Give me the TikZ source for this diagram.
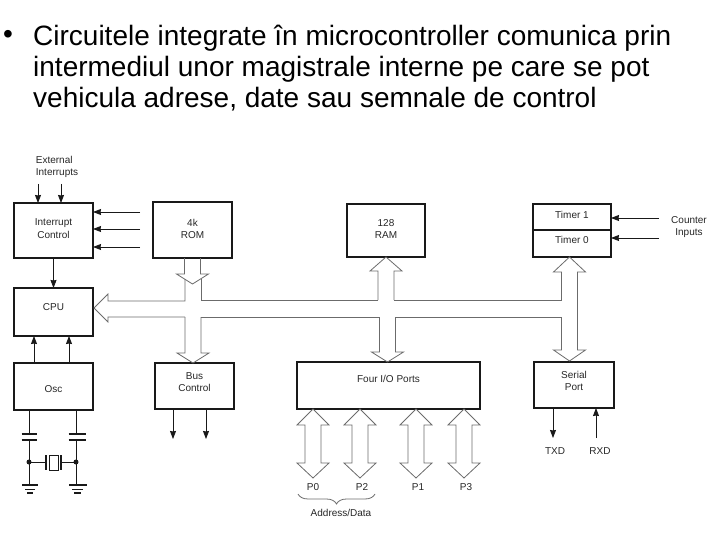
\documentclass[tikz,border=0pt]{standalone}
\usepackage{fontspec}
\setmainfont{Liberation Sans}
\usetikzlibrary{arrows.meta, positioning, calc, decorations.pathreplacing}
\definecolor{inkgray}{gray}{0.15}
\definecolor{busgray}{gray}{0.42}
\tikzset{
  blockbox/.style={
    rectangle, draw=black!90, line width=1.5pt, inner sep=0pt, outer sep=0pt,
    align=center, font=\fontsize{10}{12.5}\selectfont, text=inkgray
  },
  sigtext/.style={
    inner sep=0pt, align=center,
    font=\fontsize{10}{12}\selectfont, text=inkgray
  },
  sigarrow/.style={-{Stealth[length=8pt,width=6pt,inset=0.5pt]}, line width=0.8pt, color=black!90},
  wire/.style={line width=0.8pt, color=black!90},
  plate/.style={line width=1.4pt, color=black!90},
  busline/.style={line width=0.8pt, color=busgray},
  % outline arrows, straight down or up, tip at the height of the target
  busdown/.style={busline, to path={
    let \p1=(\tikztostart), \p2=(\tikztotarget) in
    (\x1-8pt,\y1) -- (\x1-8pt,\y2+10pt) -- (\x1-16pt,\y2+10pt) -- (\x1,\y2)
    -- (\x1+16pt,\y2+10pt) -- (\x1+8pt,\y2+10pt) -- (\x1+8pt,\y1)}},
  busup/.style={busline, to path={
    let \p1=(\tikztostart), \p2=(\tikztotarget) in
    (\x1-8pt,\y1) -- (\x1-8pt,\y2-14pt) -- (\x1-16pt,\y2-14pt) -- (\x1,\y2)
    -- (\x1+16pt,\y2-14pt) -- (\x1+8pt,\y2-14pt) -- (\x1+8pt,\y1)}},
  portarrow/.style={busline, to path={
    let \p1=(\tikztostart), \p2=(\tikztotarget) in
    (\x1,\y1) -- (\x1-16pt,\y1-16pt) -- (\x1-8pt,\y1-16pt) -- (\x1-8pt,\y2+15pt)
    -- (\x1-16pt,\y2+15pt) -- (\x1,\y2) -- (\x1+16pt,\y2+15pt) -- (\x1+8pt,\y2+15pt)
    -- (\x1+8pt,\y1-16pt) -- (\x1+16pt,\y1-16pt) -- cycle}},
}

\begin{document}
\begin{tikzpicture}[x=1pt, y=-1pt]
    \useasboundingbox (0,0) rectangle (720,540);

    \node[anchor=north west, inner sep=0pt, font=\fontsize{28}{31}\selectfont]
         (bullet) at (3,30){•};
    \node[anchor=north west, inner sep=0pt, align=left, font=\fontsize{28}{31}\selectfont]
         (title) at (33,24.5){Circuitele integrate în microcontroller comunica prin\\
         intermediul unor magistrale interne pe care se pot\\
         vehicula adrese, date sau semnale de control};

    % blocks
    \node[blockbox, minimum width=79pt, minimum height=55pt, text depth=4pt]
         (intctl) at (53.5,230.5){Interrupt\\Control};
    \node[blockbox, minimum width=79pt, minimum height=56pt, text depth=2pt]
         (rom) at (192.5,230){4k\\ROM};
    \node[blockbox, minimum width=78pt, minimum height=53pt, text depth=3pt]
         (ram) at (386,230.5){128\\RAM};
    \node[blockbox, minimum width=78pt, minimum height=26pt, text depth=4pt]
         (timerb) at (572,217){Timer 1};
    \node[blockbox, minimum width=78pt, minimum height=27pt, text depth=7pt]
         (timera) at (572,243.5){Timer 0};
    \node[blockbox, minimum width=79pt, minimum height=48pt, text depth=10pt]
         (cpu) at (53.5,312){CPU};
    \node[blockbox, minimum width=79pt, minimum height=47pt, text height=12pt]
         (osc) at (53.5,386.5){Osc};
    \node[blockbox, minimum width=79pt, minimum height=46pt, text depth=8pt]
         (busctl) at (194.5,386){Bus\\Control};
    \node[blockbox, minimum width=183pt, minimum height=47pt, text depth=13pt]
         (ports) at (388.5,385.5){Four I/O Ports};
    \node[blockbox, minimum width=80pt, minimum height=46pt, text depth=8pt]
         (serial) at (574,385){Serial\\Port};

    % labels
    \node[sigtext, align=left] (extint) at (57,166.5){External\\Interrupts};
    \node[sigtext] (cntin) at (689,227.5){Counter\\Inputs};
    \node[sigtext] (txd) at (555,451){TXD};
    \node[sigtext] (rxd) at (600,451){RXD};
    \node[sigtext] (pzero) at (313,487){P0};
    \node[sigtext] (ptwo) at (362,487){P2};
    \node[sigtext] (pone) at (418,487){P1};
    \node[sigtext] (pthree) at (466,487){P3};
    \node[sigtext] (addr) at (341,513){Address/Data};

    % free ends of the thin arrows
    \coordinate (exta) at (38,184);
    \coordinate (extb) at (61,184);
    \coordinate (irqa) at (140,212);
    \coordinate (irqb) at (140,229);
    \coordinate (irqc) at (140,247);
    \coordinate (clka) at (34,363);
    \coordinate (clkb) at (69,363);
    \coordinate (ctla) at (173,439);
    \coordinate (ctlb) at (206,439);
    \coordinate (txdend) at (553,438);
    \coordinate (rxdend) at (596,438);
    \coordinate (cnta) at (659,218);
    \coordinate (cntb) at (659,238);

    \draw[sigarrow] (exta) -- (intctl.north -| exta);
    \draw[sigarrow] (extb) -- (intctl.north -| extb);
    \draw[sigarrow] (irqa) -- (intctl.east |- irqa);
    \draw[sigarrow] (irqb) -- (intctl.east |- irqb);
    \draw[sigarrow] (irqc) -- (intctl.east |- irqc);
    \draw[sigarrow] (intctl.south) -- (cpu.north);
    \draw[sigarrow] (clka) -- (cpu.south -| clka);
    \draw[sigarrow] (clkb) -- (cpu.south -| clkb);
    \draw[sigarrow] (busctl.south -| ctla) -- (ctla);
    \draw[sigarrow] (busctl.south -| ctlb) -- (ctlb);
    \draw[sigarrow] (serial.south -| txdend) -- (txdend);
    \draw[sigarrow] (rxdend) -- (serial.south -| rxdend);
    \draw[sigarrow] (cnta) -- (timerb.east |- cnta);
    \draw[sigarrow] (cntb) -- (timera.east |- cntb);

    % bus
    \coordinate (romtip) at (193,284);
    \coordinate (ramfoot) at (386,300);
    \coordinate (ctlfoot) at (193,317);
    \coordinate (portfoot) at (387.5,317);
    \coordinate (serialtip) at (569.5,361);
    \coordinate (cputip) at (94,308);

    \draw[busdown] (rom.south) to (romtip);
    \draw[busup] (ramfoot) to (ram.south);
    \draw[busdown] (ctlfoot) to (busctl.north);
    \draw[busdown] (portfoot) to (ports.north);
    \draw[busline] (561.5,300) -- (561.5,272) -- (553.5,272) -- (timera.south -| serialtip)
          -- (585.5,272) -- (577.5,272) -- (577.5,350) -- (585.5,350) -- (serialtip)
          -- (553.5,350) -- (561.5,350) -- (561.5,317);
    \draw[busline] (185,279) -- (185,301) -- (108,301) -- (108,294) -- (cputip)
          -- (108,322) -- (108,317) -- (185,317);
    \draw[busline] (201,279) -- (201,300) -- (378,300);
    \draw[busline] (394,300) -- (561.5,300);
    \draw[busline] (201,317) -- (379.5,317);
    \draw[busline] (395.5,317) -- (561.5,317);

    % port arrows
    \coordinate (pzerotip) at (313,478);
    \coordinate (ptwotip) at (360,478);
    \coordinate (ponetip) at (416,478);
    \coordinate (pthreetip) at (464,478);
    \draw[portarrow] (ports.south -| pzerotip) to (pzerotip);
    \draw[portarrow] (ports.south -| ptwotip) to (ptwotip);
    \draw[portarrow] (ports.south -| ponetip) to (ponetip);
    \draw[portarrow] (ports.south -| pthreetip) to (pthreetip);

    \coordinate (bracel) at (298,494);
    \coordinate (bracer) at (375,494);
    \draw[busline, decorate, decoration={brace, mirror, amplitude=10pt}] (bracel) -- (bracer);

    % crystal circuit
    \coordinate (xtala) at (29,462);
    \coordinate (xtalb) at (76,462);
    \coordinate (capa) at (29,434);
    \coordinate (capb) at (76,434);
    \coordinate (gnda) at (29,485);
    \coordinate (gndb) at (76,485);
    \draw[wire] (osc.south -| capa) -- (capa);
    \draw[wire] (osc.south -| capb) -- (capb);
    \draw[plate] (21.5,434) -- (36.5,434) (21.5,440) -- (36.5,440);
    \draw[plate] (68.5,434) -- (85.5,434) (68.5,440) -- (85.5,440);
    \draw[wire] (29,440) -- (gnda);
    \draw[wire] (76,440) -- (gndb);
    \draw[wire] (xtala) -- (45,462);
    \draw[wire] (62,462) -- (xtalb);
    \draw[plate] (46,455) -- (46,470) (61,455) -- (61,470);
    \draw[wire, line width=1pt] (49,455) rectangle (58,470);
    \fill[black!90] (xtala) circle (2.5);
    \fill[black!90] (xtalb) circle (2.5);
    \draw[plate] (22,485) -- (38,485) (25,489.5) -- (35,489.5) (27,493) -- (33,493);
    \draw[plate] (69,485) -- (87,485) (72,489.5) -- (83,489.5) (74,493) -- (81,493);
\end{tikzpicture}
\end{document}
